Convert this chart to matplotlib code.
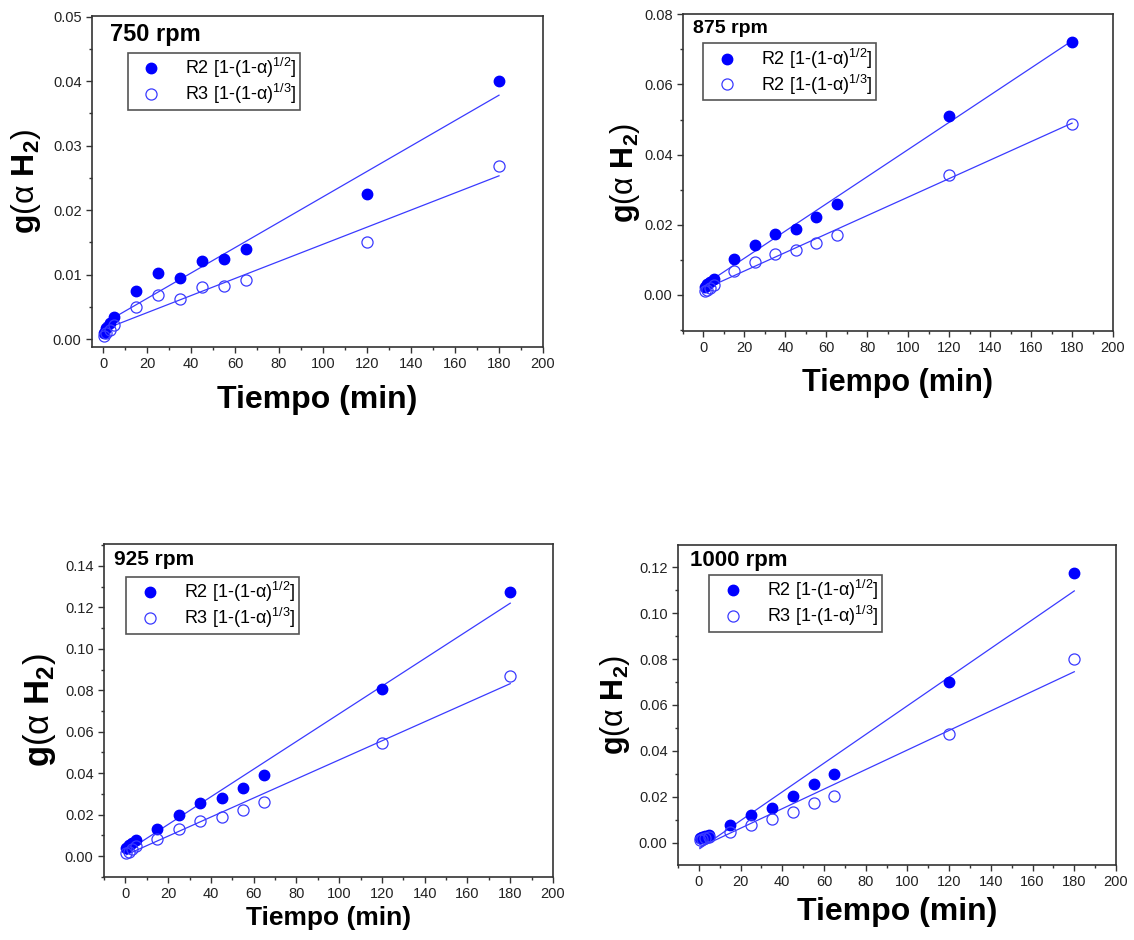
import numpy as np
import matplotlib
matplotlib.use("Agg")
from matplotlib import pyplot as plt
from matplotlib.ticker import MultipleLocator, FormatStrFormatter

plt.rcParams['font.family'] = ['Liberation Sans', 'DejaVu Sans']
plt.rcParams['mathtext.fontset'] = 'custom'
plt.rcParams['mathtext.rm'] = 'Liberation Sans'
plt.rcParams['mathtext.it'] = 'Liberation Sans'
plt.rcParams['mathtext.bf'] = 'Liberation Sans:bold'

# tiempo (min)
t = [0.5, 1.5, 3, 5, 15, 25, 35, 45, 55, 65, 120, 180]

# 750 rpm
r2_750 = [0.0010, 0.0017, 0.0025, 0.0034, 0.0075, 0.0102, 0.0095, 0.0122, 0.0124, 0.0140, 0.0225, 0.0400]
r3_750 = [0.0005, 0.0009, 0.0015, 0.0022, 0.0050, 0.0068, 0.0063, 0.0081, 0.0082, 0.0092, 0.0150, 0.0268]
# 875 rpm
r2_875 = [0.0022, 0.0030, 0.0036, 0.0045, 0.0103, 0.0143, 0.0175, 0.0189, 0.0222, 0.0260, 0.0510, 0.0722]
r3_875 = [0.0010, 0.0015, 0.0021, 0.0029, 0.0069, 0.0094, 0.0117, 0.0128, 0.0149, 0.0172, 0.0343, 0.0488]
# 925 rpm
r2_925 = [0.0040, 0.0055, 0.0063, 0.0078, 0.0130, 0.0196, 0.0256, 0.0280, 0.0330, 0.0390, 0.0806, 0.1275]
r3_925 = [0.0015, 0.0022, 0.0032, 0.0050, 0.0082, 0.0130, 0.0169, 0.0187, 0.0222, 0.0259, 0.0544, 0.0869]
# 1000 rpm
r2_1000 = [0.0022, 0.0026, 0.0030, 0.0036, 0.0078, 0.0120, 0.0154, 0.0203, 0.0258, 0.0301, 0.0700, 0.1174]
r3_1000 = [0.0012, 0.0016, 0.0020, 0.0025, 0.0049, 0.0078, 0.0103, 0.0135, 0.0172, 0.0203, 0.0474, 0.0799]

rpm_labels = ['750 rpm', '875 rpm', '925 rpm', '1000 rpm']
r2_labels = [r'R2 [1-(1-$\alpha$)$^{1/2}$]'] * 4
r3_labels = [r'R3 [1-(1-$\alpha$)$^{1/3}$]', r'R2 [1-(1-$\alpha$)$^{1/3}$]',
             r'R3 [1-(1-$\alpha$)$^{1/3}$]', r'R3 [1-(1-$\alpha$)$^{1/3}$]']

W, H = 1134, 940
fig = plt.figure(figsize=(W / 100, H / 100), dpi=100)


def px_axes(l, r, top, bot):
    return fig.add_axes([l / W, 1 - bot / H, (r - l) / W, (bot - top) / H])


# (left, right, top, bottom) in pixels
boxes = [(92, 543, 16, 347), (683, 1113, 14, 331), (104, 553, 544, 877), (678, 1116, 545, 865)]
xlims = [(-5, 200), (-10, 200), (-10, 200), (-10, 200)]
ylims = [(-0.0012, 0.0501), (-0.0103, 0.0801), (-0.0101, 0.1506), (-0.0096, 0.1296)]
ymaj = [0.01, 0.02, 0.02, 0.02]
ymin = [0.005, 0.01, 0.01, 0.01]
title_pos = [(0.041, 0.943, 17), (0.023, 0.955, 14), (0.022, 0.954, 15), (0.027, 0.953, 16)]
leg_pos = [(0.079, 0.889), (0.047, 0.908), (0.050, 0.902), (0.0715, 0.907)]
xlab = [(-0.160, 23), (-0.164, 22), (-0.123, 19), (-0.147, 23)]
ylab = [(-0.146, 23), (-0.135, 22), (-0.143, 25), (-0.144, 22)]

r2_all = [r2_750, r2_875, r2_925, r2_1000]
r3_all = [r3_750, r3_875, r3_925, r3_1000]

blue = '#0000ff'
line_c = '#3a3aff'
tt = np.array(t)

for i in range(4):
    ax = px_axes(*boxes[i])
    r2 = np.array(r2_all[i])
    r3 = np.array(r3_all[i])

    # linear fits
    for y in (r2, r3):
        m, b = np.polyfit(tt, y, 1)
        ax.plot([tt[0], tt[-1]], [m * tt[0] + b, m * tt[-1] + b], color=line_c, lw=0.9, zorder=2)

    ax.plot(tt, r2, 'o', color=blue, ms=7.5, label=r2_labels[i], zorder=3)
    ax.plot(tt, r3, 'o', mfc='none', mec=line_c, mew=0.9, ms=8, label=r3_labels[i], zorder=3)

    ax.set_xlim(*xlims[i])
    ax.set_ylim(*ylims[i])
    ax.xaxis.set_major_locator(MultipleLocator(20))
    ax.xaxis.set_minor_locator(MultipleLocator(10))
    ax.yaxis.set_major_locator(MultipleLocator(ymaj[i]))
    ax.yaxis.set_minor_locator(MultipleLocator(ymin[i]))
    ax.yaxis.set_major_formatter(FormatStrFormatter('%.2f'))
    ax.tick_params(which='major', direction='out', length=4, width=1, labelsize=10.5,
                   color='#333333', labelcolor='#222222')
    ax.tick_params(which='minor', direction='out', length=2.5, width=1, color='#333333')
    for s in ax.spines.values():
        s.set_color('#333333')
        s.set_linewidth(1.2)

    tx, ty, tfs = title_pos[i]
    ax.text(tx, ty, rpm_labels[i], transform=ax.transAxes, fontsize=tfs,
            fontweight='bold', va='center', ha='left')

    leg = ax.legend(loc='upper left', bbox_to_anchor=leg_pos[i], borderaxespad=0,
                    fontsize=13, fancybox=False, edgecolor='#555555', framealpha=1,
                    handletextpad=0.8, labelspacing=0.1, borderpad=0.2, handlelength=2.2)
    leg.get_frame().set_linewidth(1.2)

    ax.set_xlabel('Tiempo (min)', fontsize=xlab[i][1], fontweight='bold', va='center')
    ax.xaxis.set_label_coords(0.5, xlab[i][0])
    ax.set_ylabel(r'$\mathbf{g}$($\alpha$ $\mathbf{H}_\mathbf{2}$)', fontsize=ylab[i][1], va='center')
    ax.yaxis.set_label_coords(ylab[i][0], 0.5)

fig.savefig('out.png', dpi=100)
